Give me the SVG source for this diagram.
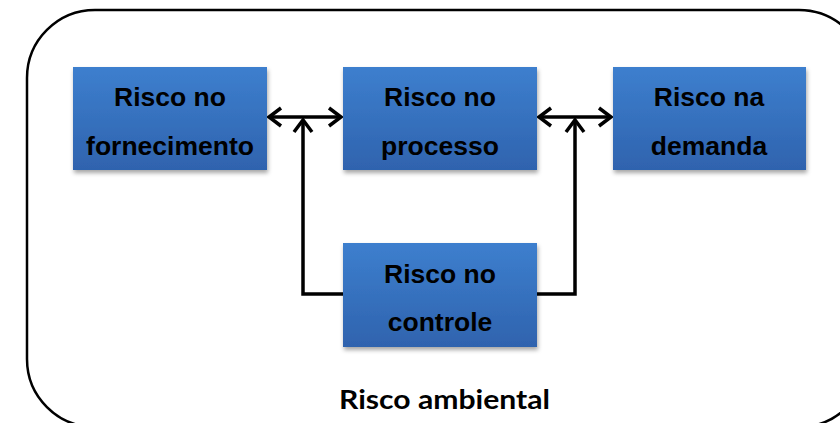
<svg xmlns="http://www.w3.org/2000/svg" width="840" height="423" viewBox="0 0 840 423">
<style>
.box{fill:url(#g);filter:url(#sh)}
.t{font-family:"Liberation Sans",Arial,sans-serif;font-weight:bold;font-size:26.5px;fill:#000;text-anchor:middle}
.c{fill:none;stroke:#000;stroke-width:3.5}
</style>
<defs>
<linearGradient id="g" x1="0" y1="0" x2="0" y2="1">
<stop offset="0" stop-color="#3D7FCE"/>
<stop offset="1" stop-color="#2F63AE"/>
</linearGradient>
<filter id="sh" x="-10%" y="-10%" width="125%" height="130%">
<feDropShadow dx="1" dy="3" stdDeviation="2" flood-color="#000" flood-opacity="0.35"/>
</filter>
<marker id="a" viewBox="0 0 18 22" refX="15" refY="11" markerWidth="18" markerHeight="22" markerUnits="userSpaceOnUse" orient="auto-start-reverse">
<path d="M3,2 L15,11 L3,20" fill="none" stroke="#000" stroke-width="3.5"/>
</marker>
</defs>
<rect x="27" y="10" width="840" height="417" rx="68" ry="68" fill="#fff" stroke="#000" stroke-width="2.5"/>
<g id="connectors">
<path class="c" d="M269,117 H341" marker-start="url(#a)" marker-end="url(#a)"/>
<path class="c" d="M539,117 H611" marker-start="url(#a)" marker-end="url(#a)"/>
<path class="c" d="M343,294 H303 V120" marker-end="url(#a)"/>
<path class="c" d="M537,294 H575 V120" marker-end="url(#a)"/>
</g>
<g id="n1"><rect class="box" x="73" y="67" width="194" height="103"/><text class="t" x="170" y="106">Risco no</text><text class="t" x="170" y="155">fornecimento</text></g>
<g id="n2"><rect class="box" x="343" y="67" width="194" height="103"/><text class="t" x="440" y="106">Risco no</text><text class="t" x="440" y="155">processo</text></g>
<g id="n3"><rect class="box" x="613" y="67" width="193" height="103"/><text class="t" x="709" y="106">Risco na</text><text class="t" x="709" y="155">demanda</text></g>
<g id="n4"><rect class="box" x="343" y="243" width="194" height="104"/><text class="t" x="440" y="283">Risco no</text><text class="t" x="440" y="331">controle</text></g>
<text x="339" y="409" textLength="211" lengthAdjust="spacingAndGlyphs" style="font-family:Lato,'Open Sans',sans-serif;font-weight:bold;font-size:27px">Risco ambiental</text>
</svg>
